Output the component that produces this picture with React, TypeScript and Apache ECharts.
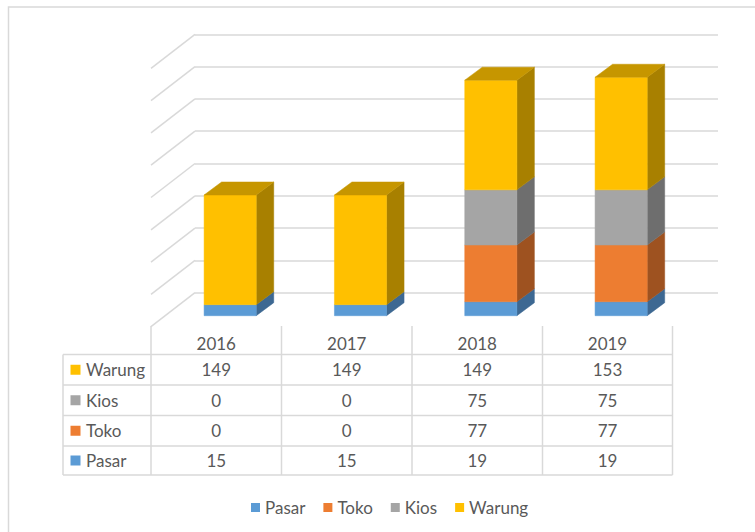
import React, { useEffect, useRef } from "react";
import * as echarts from "echarts";

// ---- data ----
const CATEGORIES = ["2016", "2017", "2018", "2019"];
const SERIES_NAMES = ["Pasar", "Toko", "Kios", "Warung"];
const PASAR = [15, 15, 19, 19];
const TOKO = [0, 0, 77, 77];
const KIOS = [0, 0, 75, 75];
const WARUNG = [149, 149, 149, 153];
const GRID_TICKS = [0, 50, 100, 150, 200, 250, 300, 350, 400];

// ---- styles ----
const FRONT = ["#5B9BD5", "#ED7D31", "#A5A5A5", "#FFC000"];
const SIDE = ["#3D6892", "#9E5220", "#6E6E6E", "#A88000"];
const TOP = ["#4A82B5", "#C4672A", "#8A8A8A", "#C69600"];
const TEXT = "#595959";
const LINE = "#D9D9D9";
const FONT_FAMILY = "Lato";
const FS = 17;

export default function App() {
  const ref = useRef<HTMLDivElement>(null);

  useEffect(() => {
    const chart = echarts.init(ref.current!, null, { renderer: "svg" });
    const stacks = [PASAR, TOKO, KIOS, WARUNG];
    const DX = 17.5;
    const DY = 13;

    const barSeries = stacks.map((arr, si) => {
      const data = CATEGORIES.map((_, ci) => {
        let base = 0;
        for (let k = 0; k < si; k++) base += stacks[k][ci];
        const isTop = stacks.slice(si + 1).every((a) => a[ci] === 0) ? 1 : 0;
        return [ci, base, base + arr[ci], isTop];
      });
      return {
        type: "custom",
        name: SERIES_NAMES[si],
        xAxisIndex: 1,
        yAxisIndex: 1,
        itemStyle: { color: FRONT[si] },
        z: 10,
        data,
        renderItem: (params: any, api: any) => {
          const ci = api.value(0);
          const b = api.value(1);
          const t = api.value(2);
          const isTop = api.value(3);
          if (t - b <= 0) return null;
          const pb = api.coord([ci, b]);
          const pt = api.coord([ci, t]);
          const bw = api.size([1, 0])[0] * 0.4;
          const x0 = pb[0] - bw / 2;
          const x1 = x0 + bw;
          const yb = pb[1];
          const yt = pt[1];
          const children: any[] = [
            {
              type: "polygon",
              shape: { points: [[x1, yt], [x1 + DX, yt - DY], [x1 + DX, yb - DY], [x1, yb]] },
              style: { fill: SIDE[si], stroke: SIDE[si], lineWidth: 0.5 },
            },
            {
              type: "polygon",
              shape: { points: [[x0, yt], [x1, yt], [x1, yb], [x0, yb]] },
              style: { fill: FRONT[si], stroke: FRONT[si], lineWidth: 0.5 },
            },
          ];
          if (isTop) {
            children.push({
              type: "polygon",
              shape: { points: [[x0, yt], [x1, yt], [x1 + DX, yt - DY], [x0 + DX, yt - DY]] },
              style: { fill: TOP[si], stroke: TOP[si], lineWidth: 0.5 },
            });
          }
          return { type: "group", children };
        },
      };
    });

    const diagSeries = {
      type: "custom",
      name: "grid-diag",
      xAxisIndex: 0,
      yAxisIndex: 0,
      silent: true,
      z: 1,
      data: GRID_TICKS.map((v) => [0, v]),
      renderItem: (params: any, api: any) => {
        const y = api.coord([0, api.value(1)])[1];
        const x = params.coordSys.x;
        return {
          type: "line",
          shape: { x1: x, y1: y, x2: x - 44, y2: y + 34 },
          style: { stroke: LINE, lineWidth: 1.5 },
        };
      },
    };

    // ---- data table (graphic) ----
    const colEdges = [151, 281.5, 412, 542.5, 672.5];
    const labelLeft = 63;
    const headerTop = 326;
    const rowLines = [354.5, 385, 415.5, 446, 475];
    const headerY = 343.5;
    const rowOrder = [3, 2, 1, 0]; // Warung, Kios, Toko, Pasar
    const font = `${FS}px ${FONT_FAMILY}`;
    const g: any[] = [];
    g.push({
      type: "rect",
      shape: { x: 8.5, y: 7, width: 900, height: 700 },
      style: { fill: "none", stroke: LINE, lineWidth: 1.5 },
      silent: true,
    });
    colEdges.forEach((x) => {
      g.push({
        type: "line",
        shape: { x1: x, y1: headerTop, x2: x, y2: rowLines[rowLines.length - 1] },
        style: { stroke: LINE, lineWidth: 1.5 },
      });
    });
    g.push({
      type: "line",
      shape: { x1: labelLeft, y1: rowLines[0], x2: labelLeft, y2: rowLines[rowLines.length - 1] },
      style: { stroke: LINE, lineWidth: 1.5 },
    });
    rowLines.forEach((y) => {
      g.push({
        type: "line",
        shape: { x1: labelLeft, y1: y, x2: colEdges[colEdges.length - 1], y2: y },
        style: { stroke: LINE, lineWidth: 1.5 },
      });
    });
    CATEGORIES.forEach((c, ci) => {
      g.push({
        type: "text",
        x: (colEdges[ci] + colEdges[ci + 1]) / 2,
        y: headerY,
        style: { text: c, font, fill: TEXT, textAlign: "center", textVerticalAlign: "middle", align: "center", verticalAlign: "middle" },
      });
    });
    rowOrder.forEach((si, ri) => {
      const cy = (rowLines[ri] + rowLines[ri + 1]) / 2;
      g.push({
        type: "rect",
        shape: { x: 70.5, y: cy - 5, width: 10, height: 10 },
        style: { fill: FRONT[si] },
      });
      g.push({
        type: "text",
        x: 86,
        y: cy,
        style: { text: SERIES_NAMES[si], font, fill: TEXT, textAlign: "left", textVerticalAlign: "middle", align: "left", verticalAlign: "middle" },
      });
      stacks[si].forEach((v, ci) => {
        g.push({
          type: "text",
          x: (colEdges[ci] + colEdges[ci + 1]) / 2,
          y: cy,
          style: { text: String(v), font, fill: TEXT, textAlign: "center", textVerticalAlign: "middle", align: "center", verticalAlign: "middle" },
        });
      });
    });

    const hiddenAxis = {
      show: true,
      axisLine: { show: false },
      axisTick: { show: false },
      axisLabel: { show: false },
    };

    const option: any = {
      animation: false,
      backgroundColor: "#ffffff",
      grid: [
        { left: 195, top: 34.3, width: 523, height: 258.4 },
        { left: 165, top: 21.3, width: 521.3, height: 294.4 },
      ],
      xAxis: [
        { type: "category", gridIndex: 0, data: CATEGORIES, ...hiddenAxis, splitLine: { show: false } },
        { type: "category", gridIndex: 1, data: CATEGORIES, ...hiddenAxis, splitLine: { show: false } },
      ],
      yAxis: [
        {
          type: "value",
          gridIndex: 0,
          min: 0,
          max: 400,
          interval: 50,
          ...hiddenAxis,
          splitLine: { show: true, lineStyle: { color: LINE, width: 1.5 } },
        },
        {
          type: "value",
          gridIndex: 1,
          min: 0,
          max: 400,
          interval: 50,
          ...hiddenAxis,
          splitLine: { show: false },
        },
      ],
      legend: {
        data: SERIES_NAMES,
        left: 246,
        top: 494,
        icon: "rect",
        itemWidth: 9,
        itemHeight: 9,
        itemGap: 18,
        textStyle: { color: TEXT, fontSize: FS, fontFamily: FONT_FAMILY },
      },
      graphic: g,
      series: [diagSeries, ...barSeries],
    };
    chart.setOption(option);
    return () => chart.dispose();
  }, []);

  return (
    <div
      ref={ref}
      style={{ position: "absolute", left: 0, top: 0, width: 755, height: 532 }}
    />
  );
}
